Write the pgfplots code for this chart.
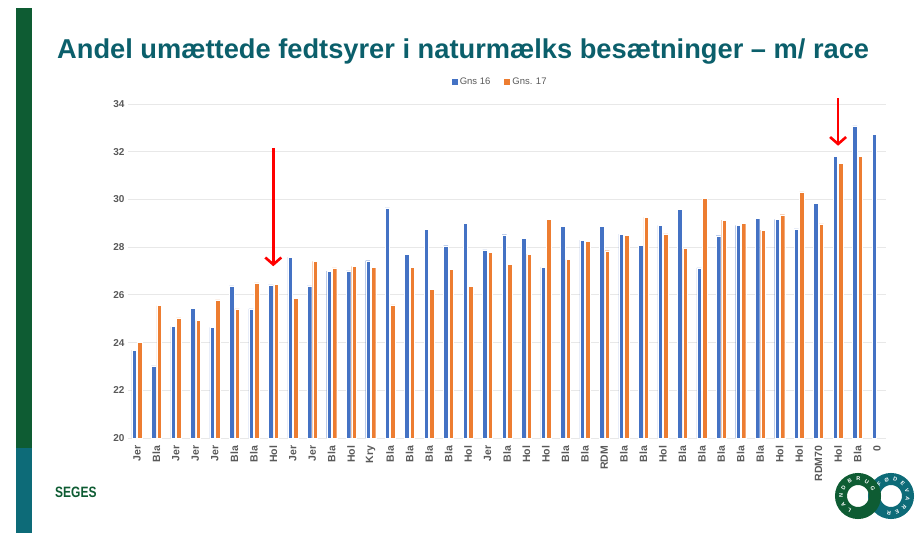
\documentclass[border=0pt]{standalone}
\usepackage{pgfplots}
\pgfplotsset{compat=1.18}
\usepackage{pgfplotstable}
\usepackage{fontspec}
\setmainfont{Liberation Sans}
\usetikzlibrary{arrows.meta,decorations.text}
\definecolor{barblue}{HTML}{4472C4}
\definecolor{barorange}{HTML}{ED7D31}
\definecolor{titleteal}{HTML}{0B5F6B}
\definecolor{segesgreen}{HTML}{0E5C33}
\definecolor{ringteal}{HTML}{0D6B78}
\definecolor{ticktext}{HTML}{595959}

\pgfplotstableread{
idx blue orange
0 23.68 24.02
1 23.02 25.55
2 24.67 25.03
3 25.43 24.92
4 24.64 25.79
5 26.38 25.41
6 25.41 26.50
7 26.42 26.43
8 27.58 25.85
9 26.38 27.40
10 26.99 27.13
11 27.00 27.19
12 27.43 27.16
13 29.65 25.58
14 27.71 27.16
15 28.74 26.22
16 28.06 27.06
17 29.01 26.35
18 27.89 27.78
19 28.52 27.27
20 28.36 27.71
21 27.16 29.16
22 28.87 27.48
23 28.29 28.24
24 28.88 27.85
25 28.55 28.49
26 28.07 29.26
27 28.91 28.56
28 29.58 27.94
29 27.13 30.04
30 28.48 29.13
31 28.91 29.01
32 29.22 28.71
33 29.16 29.36
34 28.77 30.32
35 29.83 28.97
36 31.82 31.51
37 33.08 31.82
38 32.73 0
}\datatable

\begin{document}
\begin{tikzpicture}
\path[use as bounding box] (0,0) rectangle (924pt,533pt);
% left bar
\fill[segesgreen] (16pt,85pt) rectangle (32pt,525pt);
\fill[ringteal] (16pt,0pt) rectangle (32pt,85pt);
% title
\node[anchor=west, text=titleteal, inner sep=0pt] at (57pt,481pt)
  {\resizebox{812pt}{!}{\fontsize{28}{32}\selectfont\bfseries Andel umættede fedtsyrer i naturmælks besætninger – m/ race}};
% SEGES
\node[anchor=west, text=segesgreen, inner sep=0pt] at (55pt,41pt)
  {\scalebox{0.8}[1]{\fontsize{15}{17}\selectfont\bfseries SEGES}};
% logo rings
\draw[ringteal, line width=12pt] (891pt,37pt) circle (17pt);
\draw[segesgreen, line width=12pt] (858pt,37pt) circle (17pt);
\path[decorate, decoration={text along path, text color=white,
  text={|\fontsize{5.5}{6}\selectfont\bfseries|LANDBRUG}, text align=fit to path}]
  (858pt,37pt) ++(245:15pt) arc[start angle=245, end angle=20, radius=15pt];
\path[decorate, decoration={text along path, text color=white,
  text={|\fontsize{5.5}{6}\selectfont\bfseries|FØDEVARER}, text align=fit to path}]
  (891pt,37pt) ++(140:15pt) arc[start angle=140, end angle=-105, radius=15pt];

\begin{axis}[
  at={(128pt,95pt)}, anchor=south west,
  scale only axis, width=758pt, height=334pt,
  ymin=20, ymax=34, ytick={20,22,...,34},
  xmin=-0.46, xmax=38.46,
  xtick={0,...,38},
  xticklabels={Jer,Bla,Jer,Jer,Jer,Bla,Bla,Hol,Jer,Jer,Bla,Hol,Kry,Bla,Bla,Bla,Bla,Hol,Jer,Bla,Hol,Hol,Bla,Bla,RDM,Bla,Bla,Hol,Bla,Bla,Bla,Bla,Bla,Hol,Hol,RDM70,Hol,Bla,0},
  x tick label style={rotate=90, anchor=east, font=\fontsize{10.5}{11}\selectfont\bfseries, text=ticktext},
  y tick label style={font=\fontsize{10}{11}\selectfont\bfseries, text=ticktext},
  /pgf/number format/assume math mode=true,
  ybar=1pt, bar width=4.5pt,
  ymajorgrids, grid style={gray!18, line width=0.8pt},
  axis line style={draw=none},
  major tick style={draw=none},
  clip=false,
  legend style={at={(0.491,1.066)}, anchor=center, draw=none, fill=none,
    legend columns=2, font=\fontsize{9.5}{10}\selectfont\color{ticktext},
    /tikz/every even column/.append style={column sep=12pt}},
  legend image code/.code={\fill[#1,draw=none] (0pt,-3pt) rectangle (6pt,3pt);},
]
\addplot[fill=barblue, draw=white, line width=0.3pt] table[x=idx, y=blue] {\datatable};
\addplot[fill=barorange, draw=white, line width=0.3pt, restrict y to domain=19:40] table[x=idx, y=orange] {\datatable};
\legend{Gns 16, Gns. 17}
\draw[red, line width=2.6pt, -{Straight Barb[length=7pt,width=16pt,line width=2.6pt]}] (axis cs:7,32.16) -- (axis cs:7,27.2);
\draw[red, line width=2.6pt, -{Straight Barb[length=7pt,width=16pt,line width=2.6pt]}] (axis cs:36,34.25) -- (axis cs:36,32.25);
\end{axis}
\end{tikzpicture}
\end{document}
